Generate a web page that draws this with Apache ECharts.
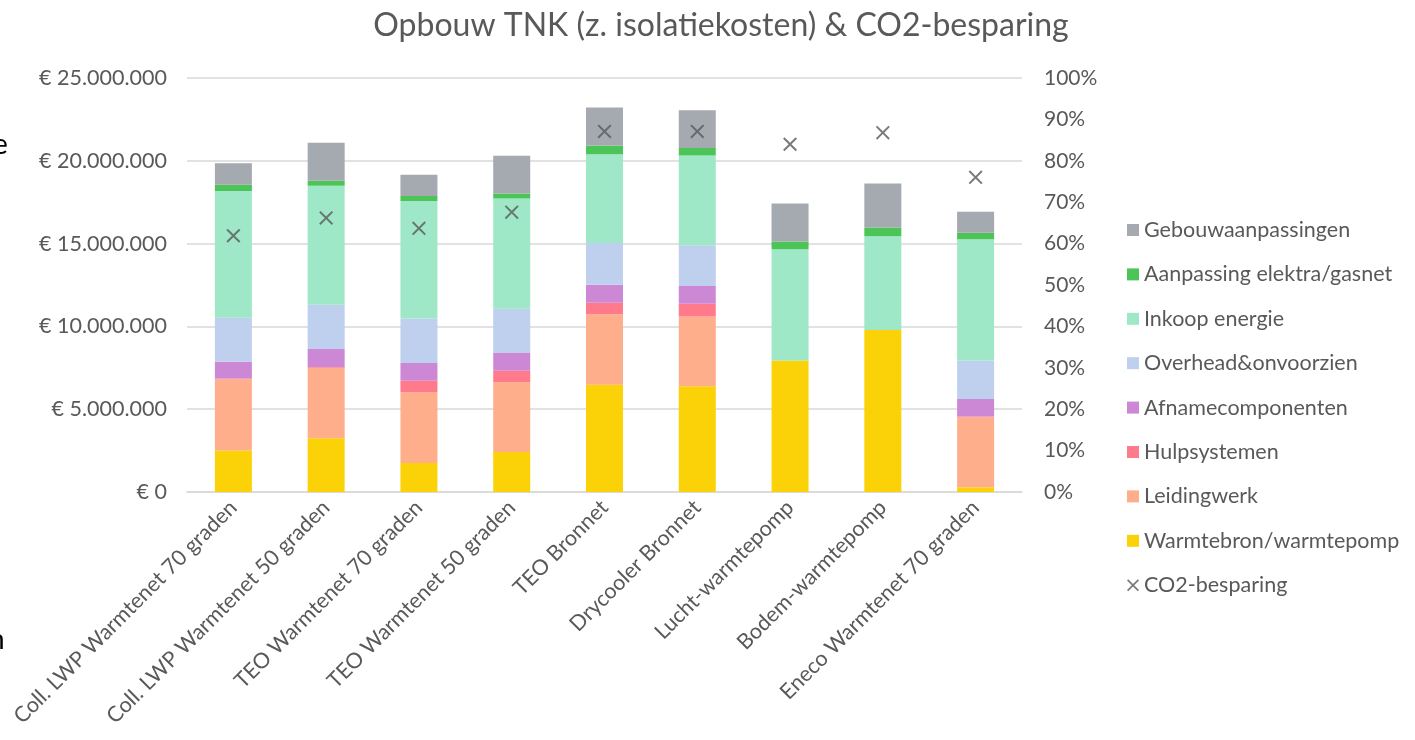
<!DOCTYPE html>
<html>
<head>
<meta charset="utf-8">
<script src="https://cdn.jsdelivr.net/npm/echarts@6/dist/echarts.min.js"></script>
<style>
html,body{margin:0;padding:0;background:#fff;}
#c{width:1415px;height:740px;}
</style>
</head>
<body>
<div id="c"></div>
<script>
const categories = ['Coll. LWP Warmtenet 70 graden','Coll. LWP Warmtenet 50 graden','TEO Warmtenet 70 graden','TEO Warmtenet 50 graden','TEO Bronnet','Drycooler Bronnet','Lucht-warmtepomp','Bodem-warmtepomp','Eneco Warmtenet 70 graden'];
const warmtebron = [2500000,3250000,1750000,2420000,6470000,6390000,7940000,9780000,280000];
const leidingwerk = [4310000,4250000,4280000,4210000,4270000,4210000,0,0,4230000];
const hulpsystemen = [50000,50000,690000,690000,690000,770000,0,0,50000];
const afname = [1000000,1080000,1070000,1070000,1090000,1070000,0,0,1060000];
const overhead = [2660000,2680000,2680000,2680000,2520000,2460000,0,0,2320000];
const inkoop = [7660000,7180000,7100000,6650000,5360000,5420000,6720000,5670000,7320000];
const elektra = [380000,300000,300000,300000,520000,460000,460000,520000,400000];
const gebouw = [1290000,2300000,1290000,2280000,2300000,2270000,2300000,2660000,1270000];
const co2 = [0.619,0.662,0.637,0.676,0.871,0.871,0.840,0.868,0.760];
const leftTicks = {min:0,max:25000000,interval:5000000};
const rightTicks = {min:0,max:1,interval:0.1};

const FONT = 'Lato';
const TXT = '#595959';
const xPath = 'path://M1,0 L5,4 L9,0 L10,1 L6,5 L10,9 L9,10 L5,6 L1,10 L0,9 L4,5 L0,1 Z';

function fmtEuro(v){
  if(v===0) return '€ 0';
  return '€ ' + String(Math.round(v)).replace(/\B(?=(\d{3})+(?!\d))/g,'.');
}

const stackDefs = [
  ['Warmtebron/warmtepomp', warmtebron, '#FBD208'],
  ['Leidingwerk', leidingwerk, '#FEAE8A'],
  ['Hulpsystemen', hulpsystemen, '#FF7B8C'],
  ['Afnamecomponenten', afname, '#CC88D5'],
  ['Overhead&onvoorzien', overhead, '#BFCFEE'],
  ['Inkoop energie', inkoop, '#9EE8C8'],
  ['Aanpassing elektra/gasnet', elektra, '#4CC458'],
  ['Gebouwaanpassingen', gebouw, '#A5A9B0']
];

const series = stackDefs.map(d => ({
  name: d[0], type: 'bar', stack: 'tnk', data: d[1],
  barWidth: 37, itemStyle: {color: d[2]},
  emphasis: {disabled: true}
}));
series.push({
  name: 'CO2-besparing', type: 'scatter', yAxisIndex: 1, data: co2,
  symbol: xPath, symbolSize: 14, itemStyle: {color: '#595959'}, z: 10
});

const legendData = stackDefs.slice().reverse().map(d => ({name: d[0], icon: 'rect'}));
legendData.push({name: 'CO2-besparing', icon: xPath});

const chart = echarts.init(document.getElementById('c'));
chart.setOption({
  animation: false,
  backgroundColor: '#ffffff',
  textStyle: {fontFamily: FONT},
  title: {
    text: 'Opbouw TNK (z. isolatiekosten) & CO2-besparing',
    left: 716, top: 5, textAlign: 'center',
    textStyle: {fontFamily: FONT, fontSize: 32, fontWeight: 'normal', color: TXT}
  },
  grid: {left: 187, right: 393, top: 78, bottom: 248, containLabel: false},
  legend: {
    orient: 'vertical', left: 1122, top: 214,
    itemWidth: 12, itemHeight: 12, itemGap: 22.4,
    data: legendData,
    textStyle: {fontFamily: FONT, fontSize: 21.5, color: TXT, lineHeight: 22, padding: [0,0,0,0]},
    selectedMode: false
  },
  xAxis: {
    type: 'category', data: categories,
    axisLine: {lineStyle: {color: '#D9D9D9', width: 1.5}},
    axisTick: {show: false},
    axisLabel: {rotate: 45, interval: 0, margin: 12, fontFamily: FONT, fontSize: 21.5, color: TXT}
  },
  yAxis: [{
    type: 'value', min: leftTicks.min, max: leftTicks.max, interval: leftTicks.interval,
    axisLine: {show: false}, axisTick: {show: false},
    splitLine: {lineStyle: {color: '#D9D9D9', width: 1.5}},
    axisLabel: {formatter: fmtEuro, margin: 20, fontFamily: FONT, fontSize: 21.5, color: TXT}
  },{
    type: 'value', min: rightTicks.min, max: rightTicks.max, interval: rightTicks.interval,
    axisLine: {show: false}, axisTick: {show: false}, splitLine: {show: false},
    axisLabel: {formatter: v => Math.round(v*100) + '%', margin: 22, fontFamily: FONT, fontSize: 21, color: TXT}
  }],
  graphic: [
    {type: 'text', left: -7, top: 131, style: {text: 'e', fontFamily: FONT, fontSize: 28, fill: '#000'}},
    {type: 'text', x: -11, y: 626, style: {text: 'n', fontFamily: FONT, fontSize: 28, fill: '#000'}}
  ],
  series: series
});
</script>
</body>
</html>
